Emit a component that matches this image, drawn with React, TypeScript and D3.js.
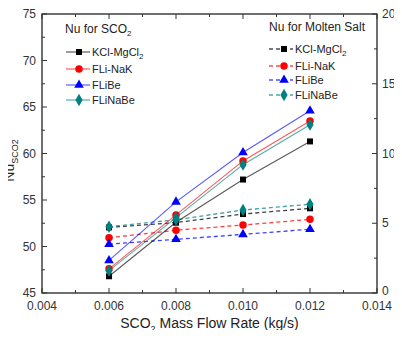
import { useEffect, useRef } from 'react'
import * as d3 from 'd3'

const flowRates = [0.006, 0.008, 0.01, 0.012]
const fluids = ['KCl-MgCl2', 'FLi-NaK', 'FLiBe', 'FLiNaBe']
const fluidColors = ['#000000', '#ff0000', '#0000ff', '#008080']
const fluidMarkers = ['square', 'circle', 'triangle', 'diamond']

// Nu for SCO2 (left axis)
const nuSco2 = [
  [46.8, 52.6, 57.2, 61.3],
  [47.6, 53.4, 59.2, 63.5],
  [48.5, 54.8, 60.1, 64.6],
  [47.4, 53.1, 58.8, 63.1],
]

// Nu for molten salt (right axis)
const nuSalt = [
  [4.7, 5.05, 5.66, 6.07],
  [3.96, 4.5, 4.87, 5.28],
  [3.5, 3.85, 4.2, 4.57],
  [4.75, 5.25, 5.95, 6.36],
]

const xTicks = [0.004, 0.006, 0.008, 0.01, 0.012, 0.014]
const leftTicks = [45, 50, 55, 60, 65, 70, 75]
const rightTicks = [0, 5, 10, 15, 20]

export default function App() {
  const svgRef = useRef<SVGSVGElement>(null)
  const width = 402
  const height = 338

  useEffect(() => {
    if (!svgRef.current) return
    const svg = d3.select(svgRef.current)
    svg.selectAll('*').remove()

    const margin = { top: 14, right: 25, bottom: 45, left: 42 }
    const innerWidth = width - margin.left - margin.right
    const innerHeight = height - margin.top - margin.bottom
    const font = '"Liberation Sans", Arial, sans-serif'

    const x = d3.scaleLinear().domain([0.004, 0.014]).range([0, innerWidth])
    const yL = d3.scaleLinear().domain([45, 75]).range([innerHeight, 0])
    const yR = d3.scaleLinear().domain([0, 20]).range([innerHeight, 0])

    const g = svg.append('g').attr('transform', `translate(${margin.left},${margin.top})`)

    const marker = (sel: d3.Selection<SVGGElement, unknown, null, undefined>, type: string, cx: number, cy: number, color: string) => {
      const sym =
        type === 'square' ? d3.symbolSquare : type === 'circle' ? d3.symbolCircle : type === 'triangle' ? d3.symbolTriangle : d3.symbolDiamond
      const size = type === 'square' ? 36 : type === 'circle' ? 44 : type === 'triangle' ? 40 : 44
      sel.append('path')
        .attr('d', d3.symbol().type(sym).size(size)())
        .attr('transform', `translate(${cx},${cy})`)
        .attr('fill', color)
    }

    // dashed molten-salt lines
    fluids.forEach((_, i) => {
      const line = d3.line<number>().x((_, j) => x(flowRates[j])).y((d) => yR(d))
      g.append('path')
        .attr('d', line(nuSalt[i]))
        .attr('fill', 'none')
        .attr('stroke', fluidColors[i])
        .attr('stroke-opacity', 0.75)
        .attr('stroke-width', 1.3)
        .attr('stroke-dasharray', '4,3')
    })
    // solid SCO2 lines
    fluids.forEach((_, i) => {
      const line = d3.line<number>().x((_, j) => x(flowRates[j])).y((d) => yL(d))
      g.append('path')
        .attr('d', line(nuSco2[i]))
        .attr('fill', 'none')
        .attr('stroke', fluidColors[i])
        .attr('stroke-opacity', 0.65)
        .attr('stroke-width', 1.1)
    })
    fluids.forEach((_, i) => {
      nuSalt[i].forEach((v, j) => marker(g, fluidMarkers[i], x(flowRates[j]), yR(v), fluidColors[i]))
      nuSco2[i].forEach((v, j) => marker(g, fluidMarkers[i], x(flowRates[j]), yL(v), fluidColors[i]))
    })

    // frame
    g.append('rect')
      .attr('width', innerWidth)
      .attr('height', innerHeight)
      .attr('fill', 'none')
      .attr('stroke', '#222')
      .attr('stroke-width', 1.3)

    const tickStroke = '#333'
    // x ticks (bottom and top, inward)
    const xMinor = d3.range(0.005, 0.014, 0.002)
    ;[...xTicks, ...xMinor].forEach((t, k) => {
      const len = k < xTicks.length ? 5 : 3
      g.append('line').attr('x1', x(t)).attr('x2', x(t)).attr('y1', innerHeight).attr('y2', innerHeight - len).attr('stroke', tickStroke)
      g.append('line').attr('x1', x(t)).attr('x2', x(t)).attr('y1', 0).attr('y2', len).attr('stroke', tickStroke)
    })
    xTicks.forEach((t) => {
      g.append('text')
        .attr('x', x(t))
        .attr('y', innerHeight + 17)
        .attr('text-anchor', 'middle')
        .style('font-family', font)
        .style('font-size', '12px')
        .style('fill', '#333')
        .text(d3.format('.3f')(t))
    })

    // left ticks
    const leftMinor = d3.range(47.5, 75, 5)
    ;[...leftTicks, ...leftMinor].forEach((t, k) => {
      const len = k < leftTicks.length ? 5 : 3
      g.append('line').attr('x1', 0).attr('x2', len).attr('y1', yL(t)).attr('y2', yL(t)).attr('stroke', tickStroke)
    })
    leftTicks.forEach((t) => {
      g.append('text')
        .attr('x', -6)
        .attr('y', yL(t) + 4)
        .attr('text-anchor', 'end')
        .style('font-family', font)
        .style('font-size', '12px')
        .style('fill', '#333')
        .text(t)
    })

    // right ticks
    const rightMinor = d3.range(2.5, 20, 5)
    ;[...rightTicks, ...rightMinor].forEach((t, k) => {
      const len = k < rightTicks.length ? 5 : 3
      g.append('line').attr('x1', innerWidth).attr('x2', innerWidth - len).attr('y1', yR(t)).attr('y2', yR(t)).attr('stroke', tickStroke)
    })
    rightTicks.forEach((t) => {
      g.append('text')
        .attr('x', innerWidth + 5)
        .attr('y', yR(t) + (t === 0 ? 2 : 4))
        .attr('text-anchor', 'start')
        .style('font-family', font)
        .style('font-size', '12px')
        .style('fill', '#333')
        .text(t)
    })

    // axis titles
    const xt = g.append('text')
      .attr('x', innerWidth / 2)
      .attr('y', innerHeight + 35)
      .attr('text-anchor', 'middle')
      .style('font-family', font)
      .style('font-size', '14px')
      .style('fill', '#222')
    xt.append('tspan').text('SCO')
    xt.append('tspan').attr('dy', 4).style('font-size', '9px').text('2')
    xt.append('tspan').attr('dy', -4).text(' Mass Flow Rate (kg/s)')

    const yt = g.append('text')
      .attr('transform', `translate(${-28},${innerHeight / 2 + 7}) rotate(-90)`)
      .attr('text-anchor', 'middle')
      .style('font-family', font)
      .style('font-size', '14px')
      .style('fill', '#222')
    yt.append('tspan').text('Nu')
    yt.append('tspan').attr('dy', 4).style('font-size', '9px').text('SCO2')

    // legends
    const legend = (lx: number, ly: number, title: string, sub: string, dashed: boolean, l0: number, l1: number, mx: number, tx: number, rows: number[]) => {
      const t = svg.append('text')
        .attr('x', lx)
        .attr('y', ly)
        .style('font-family', font)
        .style('font-size', '12px')
        .style('fill', '#222')
      t.append('tspan').text(title)
      if (sub) t.append('tspan').attr('dy', 3).style('font-size', '8px').text(sub)
      const lg = svg.append('g') as unknown as d3.Selection<SVGGElement, unknown, null, undefined>
      fluids.forEach((f, i) => {
        const yy = rows[i]
        lg.append('line')
          .attr('x1', l0)
          .attr('x2', l1)
          .attr('y1', yy)
          .attr('y2', yy)
          .attr('stroke', fluidColors[i])
          .attr('stroke-opacity', 0.7)
          .attr('stroke-width', dashed ? 1.3 : 1.1)
          .attr('stroke-dasharray', dashed ? '4,3' : null)
        marker(lg, fluidMarkers[i], mx, yy, fluidColors[i])
        const ft = lg.append('text')
          .attr('x', tx)
          .attr('y', yy + 4)
          .style('font-family', font)
          .style('font-size', '11px')
          .style('fill', '#222')
        if (f === 'KCl-MgCl2') {
          ft.append('tspan').text('KCl-MgCl')
          ft.append('tspan').attr('dy', 3).style('font-size', '8px').text('2')
        } else {
          ft.text(f)
        }
      })
    }
    legend(65, 33, 'Nu for SCO', '2', false, 66, 90, 79, 92, [52, 69, 85, 100])
    legend(269, 31, 'Nu for Molten Salt', '', true, 269, 293, 284, 295, [49, 66, 80, 95])
  }, [])

  return (
    <div style={{ margin: -8 }}>
      <svg ref={svgRef} width={width} height={height} style={{ display: 'block', background: '#fff' }} />
    </div>
  )
}
